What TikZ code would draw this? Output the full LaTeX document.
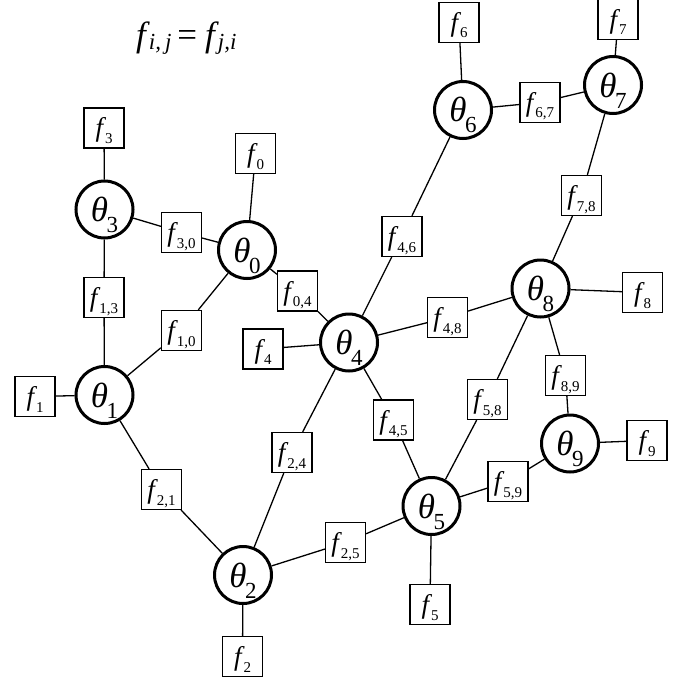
\documentclass[tikz,border=0pt]{standalone}
\usepackage{fontspec}
\setmainfont{Liberation Serif}[ItalicFont={Liberation Serif Italic}]
% variable label: italic theta with a lowered upright index, baseline set below the centre
\newcommand{\thv}[1]{\raisebox{-12pt}[0pt][0pt]{\fontsize{35}{35}\selectfont\itshape θ\kern-1.5pt\raisebox{-11pt}{\fontsize{23}{23}\selectfont\upshape #1}}}
% factor label: italic f with a lowered upright index
\newcommand{\fac}[1]{\raisebox{-9pt}[0pt][0pt]{\fontsize{27}{27}\selectfont\itshape f\kern2pt\raisebox{-6.5pt}{\fontsize{15}{15}\selectfont\upshape #1}}}
\tikzset{
  varnode/.style={circle, draw, line width=3pt, minimum size=57pt, inner sep=0pt, fill=white},
  facnode/.style={rectangle, draw, line width=1.2pt, minimum size=40pt, inner sep=0pt, fill=white},
  link/.style={line width=1.3pt}
}
\begin{document}
\begin{tikzpicture}[x=1pt, y=-1pt]
\useasboundingbox (0,0) rectangle (684,682);

% symmetry note
\node[anchor=base west, inner sep=0pt] (eq) at (136,47) {\fontsize{35}{35}\selectfont\itshape f\kern3pt\raisebox{-3pt}{\fontsize{23}{23}\selectfont i,\kern4pt j}\kern6pt\upshape =\kern8pt\itshape f\kern3pt\raisebox{-3pt}{\fontsize{23}{23}\selectfont j,i}};

% variables
\node[varnode] (t0) at (247,250) {\thv{0}};
\node[varnode] (t1) at (104.5,395) {\thv{1}};
\node[varnode] (t2) at (243,575) {\thv{2}};
\node[varnode] (t3) at (104.5,209.5) {\thv{3}};
\node[varnode] (t4) at (349,342.5) {\thv{4}};
\node[varnode] (t5) at (431.5,506) {\thv{5}};
\node[varnode] (t6) at (463,110) {\thv{6}};
\node[varnode] (t7) at (613,85) {\thv{7}};
\node[varnode] (t8) at (540.5,288.5) {\thv{8}};
\node[varnode] (t9) at (570,443.5) {\thv{9}};

% unary factors
\node[facnode] (f0) at (255.5,153.5) {\fac{0}};
\node[facnode] (f1) at (35,396.5) {\fac{1}};
\node[facnode] (f2) at (242.5,656.5) {\fac{2}};
\node[facnode] (f3) at (104,128) {\fac{3}};
\node[facnode] (f4) at (263,349) {\fac{4}};
\node[facnode] (f5) at (430,604.5) {\fac{5}};
\node[facnode] (f6) at (459,22.5) {\fac{6}};
\node[facnode] (f7) at (618,19.5) {\fac{7}};
\node[facnode] (f8) at (642.5,292.5) {\fac{8}};
\node[facnode] (f9) at (647,440.5) {\fac{9}};

% pairwise factors
\node[facnode] (f30) at (181.5,232.5) {\fac{3,0}};
\node[facnode] (f13) at (104,297.5) {\fac{1,3}};
\node[facnode] (f10) at (181.5,330.5) {\fac{1,0}};
\node[facnode] (f04) at (297.5,291) {\fac{0,4}};
\node[facnode] (f21) at (161.5,489.5) {\fac{2,1}};
\node[facnode] (f24) at (292,452.5) {\fac{2,4}};
\node[facnode] (f25) at (345.5,542.5) {\fac{2,5}};
\node[facnode] (f45) at (393.5,420) {\fac{4,5}};
\node[facnode] (f46) at (402,236.5) {\fac{4,6}};
\node[facnode] (f48) at (447.5,317.5) {\fac{4,8}};
\node[facnode] (f58) at (487.5,399.5) {\fac{5,8}};
\node[facnode] (f59) at (508,481.5) {\fac{5,9}};
\node[facnode] (f67) at (540,102.5) {\fac{6,7}};
\node[facnode] (f78) at (581.5,195.5) {\fac{7,8}};
\node[facnode] (f89) at (565.5,375.5) {\fac{8,9}};

% edges
\draw[link] (t0) -- (f0);
\draw[link] (t1) -- (f1);
\draw[link] (t2) -- (f2);
\draw[link] (t3) -- (f3);
\draw[link] (t4) -- (f4);
\draw[link] (t5) -- (f5);
\draw[link] (t6) -- (f6);
\draw[link] (t7) -- (f7);
\draw[link] (t8) -- (f8);
\draw[link] (t9) -- (f9);
\draw[link] (t3) -- (f30) -- (t0);
\draw[link] (t3) -- (f13) -- (t1);
\draw[link] (t1) -- (f10) -- (t0);
\draw[link] (t0) -- (f04) -- (t4);
\draw[link] (t1) -- (f21) -- (t2);
\draw[link] (t2) -- (f24) -- (t4);
\draw[link] (t2) -- (f25) -- (t5);
\draw[link] (t4) -- (f45) -- (t5);
\draw[link] (t4) -- (f46) -- (t6);
\draw[link] (t4) -- (f48) -- (t8);
\draw[link] (t5) -- (f58) -- (t8);
\draw[link] (t5) -- (f59) -- (t9);
\draw[link] (t6) -- (f67) -- (t7);
\draw[link] (t7) -- (f78) -- (t8);
\draw[link] (t8) -- (f89) -- (t9);
\end{tikzpicture}
\end{document}
